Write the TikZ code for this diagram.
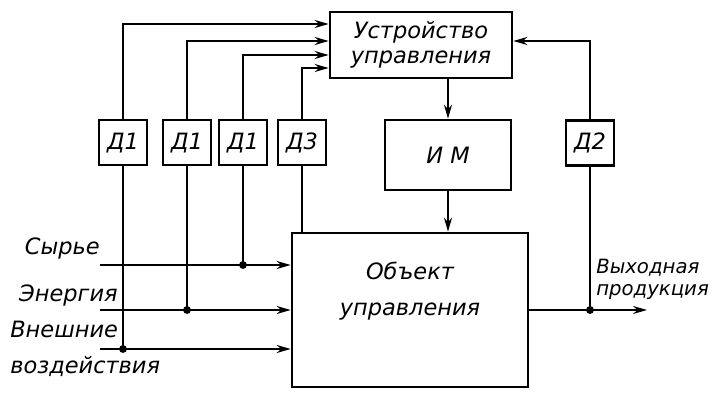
\documentclass[tikz,border=0pt]{standalone}
\usepackage{fontspec}
\setmainfont{DejaVu Sans}
\usetikzlibrary{arrows.meta, positioning, calc}
\tikzstyle{block} = [rectangle, draw=black, line width=1.9pt, align=center,
                     font=\itshape\fontsize{16}{18}\selectfont]
\tikzstyle{sensor} = [rectangle, minimum width=1.2cm, minimum height=1.125cm,
                      inner sep=0pt, draw=black, line width=1.9pt,
                      font=\itshape\fontsize{16}{18}\selectfont]
\tikzstyle{sig} = [inner sep=0pt, align=left, font=\itshape\fontsize{16}{18}\selectfont]
\tikzstyle{arrow} = [-{Stealth[length=3.5mm, width=2mm]}, line width=1.3pt]
\tikzstyle{wire} = [line width=1.3pt]

\begin{document}
\begin{tikzpicture}
    \useasboundingbox (0,0) rectangle (17.8,10.075);
    \node[block, minimum width=4.55cm, minimum height=1.65cm] (ctrl) at (10.525,8.95) {Устройство\\управления};
    \node[block, minimum width=3.15cm, minimum height=1.75cm] (im) at (11.2,6.2) {И М};
    \node[block, minimum width=5.9cm, minimum height=3.85cm] (obj) at (10.25,2.325) {Объект\\[8pt]управления\\[12pt]};

    \node[sensor] (d1a) at (3.075,6.51) {Д1};
    \node[sensor] (d1b) at (4.675,6.51) {Д1};
    \node[sensor] (d1c) at (6.075,6.51) {Д1};
    \node[sensor] (d3) at (7.55,6.51) {Д3};
    \node[sensor] (d2) at (14.75,6.5) {Д2};

    \coordinate (raw) at (2.5,3.45);
    \coordinate (power) at (2.5,2.325);
    \coordinate (ext) at (2.5,1.35);
    \coordinate (out) at (16.175,2.325);

    \node[sig, anchor=south east] at ([yshift=0.15cm]raw) {Сырье};
    \node[sig, anchor=south east] at ([xshift=0.45cm, yshift=0.1cm]power) {Энергия};
    \node[sig, anchor=west] at (0.25,1.35) {Внешние\\[8pt]воздействия};
    \node[sig, anchor=south west, font=\itshape\fontsize{14}{16}\selectfont]
        at ([xshift=0.15cm, yshift=0.25cm]d2 |- out) {Выходная\\продукция};

    \draw[arrow] (d1a) |- ([yshift=0.525cm]ctrl.west);
    \draw[arrow] (d1b) |- ([yshift=0.1cm]ctrl.west);
    \draw[arrow] (d1c) |- ([yshift=-0.25cm]ctrl.west);
    \draw[arrow] (d3) |- ([yshift=-0.575cm]ctrl.west);
    \draw[arrow] (d2) |- ([yshift=0.1cm]ctrl.east);
    \draw[arrow] (ctrl.south -| im) -- (im);
    \draw[arrow] (im) -- (obj.north -| im);

    \draw[arrow] (raw) -- (raw -| obj.west);
    \draw[arrow] (power) -- (power -| obj.west);
    \draw[arrow] (ext) -- (ext -| obj.west);
    \draw[wire] (d1a) -- (d1a |- ext);
    \draw[wire] (d1b) -- (d1b |- power);
    \draw[wire] (d1c) -- (d1c |- raw);
    \draw[wire] (d3) -- (d3 |- obj.north);
    \draw[arrow] (obj.east) -- (out);
    \draw[wire] (d2) -- (d2 |- out);

    \fill (d1a |- ext) circle (2.8pt);
    \fill (d1b |- power) circle (2.8pt);
    \fill (d1c |- raw) circle (2.8pt);
    \fill (d2 |- out) circle (2.8pt);
\end{tikzpicture}
\end{document}
